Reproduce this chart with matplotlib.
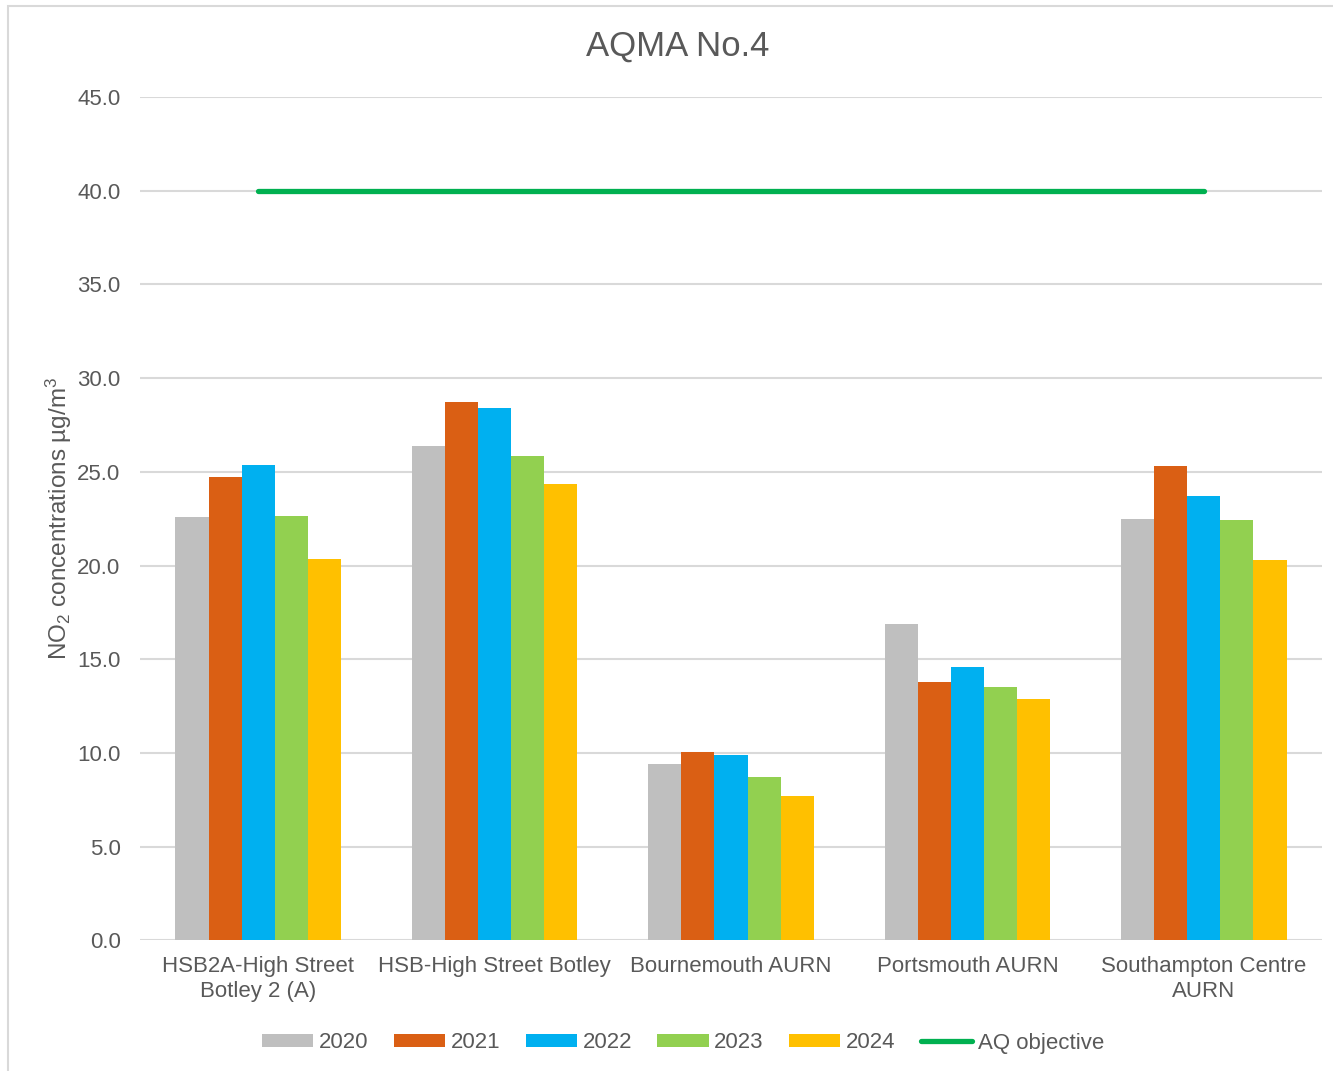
import matplotlib
matplotlib.use('Agg')
import matplotlib.pyplot as plt
import numpy as np
from matplotlib.patches import Rectangle

plt.rcParams['font.family'] = ['Liberation Sans', 'DejaVu Sans']
plt.rcParams['mathtext.fontset'] = 'custom'
plt.rcParams['mathtext.rm'] = 'Liberation Sans'
plt.rcParams['mathtext.default'] = 'rm'
plt.rcParams['axes.axisbelow'] = True

sites = ['HSB2A-High Street\nBotley 2 (A)', 'HSB-High Street Botley', 'Bournemouth AURN',
         'Portsmouth AURN', 'Southampton Centre\nAURN']
years = ['2020', '2021', '2022', '2023', '2024']
no2_2020 = [22.6, 26.4, 9.4, 16.9, 22.5]
no2_2021 = [24.7, 28.7, 10.05, 13.8, 25.3]
no2_2022 = [25.35, 28.4, 9.9, 14.6, 23.7]
no2_2023 = [22.65, 25.85, 8.7, 13.5, 22.45]
no2_2024 = [20.35, 24.35, 7.7, 12.85, 20.3]
aq_objective = [40, 40, 40, 40, 40]

colors = ['#BFBFBF', '#DA5F14', '#00B0F0', '#92D050', '#FFC000']
text_col = '#595959'

fig = plt.figure(figsize=(13.33, 10.71), dpi=100)
# chart-area border (only top/left edges fall inside the image)
fig.patches.append(Rectangle((8 / 1333, -0.1), 1.2, 1 - 6 / 1071 + 0.1, transform=fig.transFigure,
                             fill=False, edgecolor='#D9D9D9', linewidth=1.5))
ax = fig.add_axes([140 / 1333, 1 - 940.3 / 1071, (1322 - 140) / 1333, (940.3 - 97) / 1071])

x = np.arange(len(sites))
w = 0.14
series = [no2_2020, no2_2021, no2_2022, no2_2023, no2_2024]
handles = []
for i, vals in enumerate(series):
    b = ax.bar(x + (i - 2) * w, vals, w, color=colors[i], label=years[i], zorder=2)
    handles.append(b)
ln, = ax.plot(x, aq_objective, color='#00B050', linewidth=3.8, solid_capstyle='round',
              label='AQ objective', zorder=3)
handles.append(ln)

ax.set_xlim(-0.5, 4.5)
ax.set_ylim(0, 45)
ax.set_yticks(np.arange(0, 46, 5))
ax.set_yticklabels([f'{v:.1f}' for v in np.arange(0, 46, 5)])
ax.set_xticks(x)
ax.set_xticklabels(sites, linespacing=1.3)
ax.grid(axis='y', color='#D9D9D9', linewidth=1.5)
for s in ax.spines.values():
    s.set_visible(False)
ax.tick_params(axis='both', length=0, labelsize=16, labelcolor=text_col)
ax.tick_params(axis='y', pad=14)
ax.tick_params(axis='x', pad=11)
ax.set_ylabel('NO$_2$ concentrations µg/m$^3$', fontsize=17.5, color=text_col, labelpad=2)

fig.text(678 / 1333, 1 - 46 / 1071, 'AQMA No.4', ha='center', va='center', fontsize=25, color=text_col)

leg = fig.legend(handles=handles, loc='center', bbox_to_anchor=(683 / 1333, 1 - 1043 / 1071), ncol=6,
                 frameon=False, fontsize=16, handlelength=2.3, handleheight=0.5, handletextpad=0.25,
                 columnspacing=1.15)
for t in leg.get_texts():
    t.set_color(text_col)

fig.savefig('out.png', dpi=100)
